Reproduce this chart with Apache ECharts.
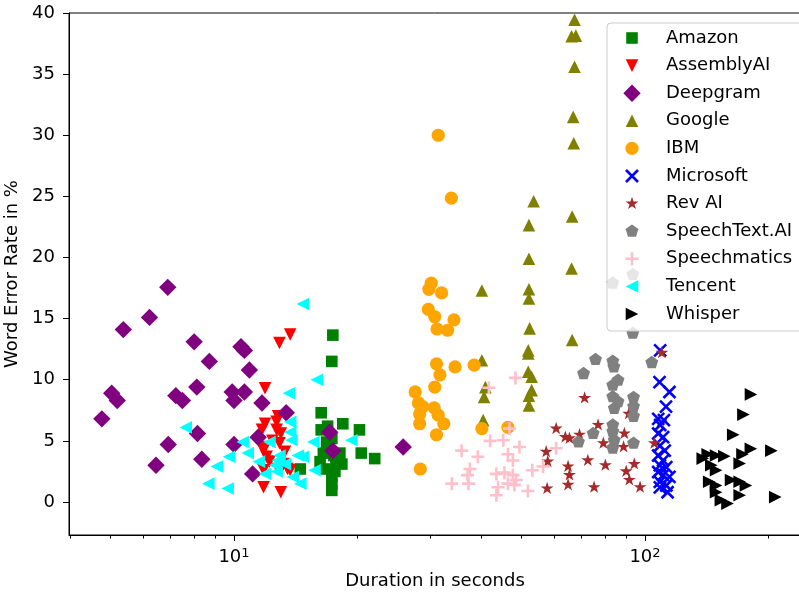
<!DOCTYPE html>
<html>
<head>
<meta charset="utf-8">
<script src="https://cdn.jsdelivr.net/npm/echarts@6/dist/echarts.min.js"></script>
<style>
html,body{margin:0;padding:0;background:#fff;}
#chart{width:799px;height:594px;}
</style>
</head>
<body>
<div id="chart"></div>
<script>
// ---- data: [duration in seconds, word error rate in %] ----
const amazon = [[17.4,13.65],[17.3,11.5],[16.3,7.3],[18.4,6.4],[20.2,5.9],[16.3,5.9],[17.3,5.2],[16.5,4.0],[18.1,4.0],[20.4,4.0],[22.0,3.55],[16.6,2.7],[18.3,3.1],[14.5,2.7],[17.3,2.05],[17.3,1.5],[17.3,0.95],[17.7,3.4],[16.8,4.9],[16.9,6.2],[17.0,4.5],[17.5,3.8],[16.2,3.3],[17.6,2.5]];
const assemblyai = [[13.7,13.7],[12.9,13.0],[11.9,9.3],[11.9,6.4],[12.7,6.55],[12.8,7.0],[11.7,5.9],[12.7,5.9],[13.0,5.6],[11.7,4.5],[11.8,4.2],[12.9,4.8],[12.0,3.7],[12.2,3.3],[13.2,3.1],[13.5,2.7],[12.8,2.7],[11.8,1.2],[13.0,0.8],[11.8,2.6],[13.7,2.6],[12.4,5.0],[13.3,4.1]];
const deepgram = [[6.9,17.56],[6.23,15.1],[5.38,14.1],[8.0,13.1],[8.71,11.5],[10.4,12.7],[10.6,12.4],[10.9,10.8],[8.12,9.4],[5.04,8.9],[5.2,8.3],[7.22,8.7],[7.49,8.3],[9.9,9.0],[10.6,9.0],[10.0,8.3],[4.77,6.8],[8.15,5.6],[6.92,4.7],[10.0,4.7],[8.35,3.5],[6.46,3.0],[11.1,2.3],[11.7,8.1],[13.4,7.3],[11.45,5.3],[17.1,5.7],[17.4,4.2],[25.8,4.5]];
const google = [[67.4,39.45],[66.3,38.1],[67.9,38.15],[67.4,35.6],[66.9,31.5],[67.1,29.35],[53.6,24.6],[66.5,23.35],[52.2,22.65],[52.2,19.9],[66.3,19.1],[52.2,17.4],[52.2,16.65],[52.4,14.2],[66.5,13.25],[52.0,12.4],[52.0,12.15],[52.0,10.65],[53.0,10.25],[53.0,9.15],[52.2,8.7],[52.2,7.9],[40.1,17.3],[40.1,11.6],[40.9,9.4],[40.6,8.6],[40.4,6.7]];
const ibm = [[31.4,30.0],[33.8,24.85],[30.2,17.9],[29.8,17.4],[32.0,17.1],[29.7,15.75],[30.8,15.15],[34.3,14.9],[31.2,14.15],[33.1,14.05],[31.1,11.3],[34.5,11.05],[38.4,11.2],[31.7,10.4],[30.8,9.4],[27.6,9.0],[28.1,8.1],[28.8,7.8],[28.3,7.2],[30.7,7.7],[31.4,7.1],[32.4,6.4],[28.3,6.4],[31.1,5.5],[40.1,6.0],[46.4,6.1],[28.4,2.7]];
const microsoft = [[108.9,12.4],[108.5,9.8],[114.7,9.0],[112.5,7.8],[107.7,6.8],[111.2,6.7],[108.9,6.3],[107.7,5.6],[110.7,5.3],[108.7,4.6],[111.7,4.2],[107.7,3.8],[110.7,3.4],[108.7,3.0],[112.7,2.85],[107.7,2.45],[110.7,2.2],[114.7,2.05],[108.7,1.65],[112.7,1.35],[108.7,1.2],[113.5,0.8]];
const revai = [[109.9,12.2],[71.3,8.5],[91.3,7.2],[60.8,6.0],[76.9,6.3],[64.0,5.3],[65.5,5.2],[69.3,5.5],[89.1,5.6],[105.4,4.8],[57.5,4.1],[79.2,4.8],[88.7,4.5],[58.0,3.3],[72.6,3.4],[80.1,3.0],[65.0,2.9],[65.5,2.2],[65.0,1.4],[94.2,3.1],[90.0,2.5],[91.6,1.8],[97.3,1.2],[57.8,1.1],[75.2,1.2]];
const speechtext = [[75.8,11.65],[83.5,11.5],[84.0,11.05],[70.9,10.5],[103.9,11.4],[86.0,9.95],[83.5,9.55],[83.5,8.6],[86.0,8.2],[93.8,8.55],[93.8,7.8],[93.8,7.0],[84.2,7.65],[83.5,6.3],[83.5,5.75],[84.2,5.05],[83.5,4.4],[74.8,5.6],[68.9,4.9],[93.8,4.8],[83.5,17.9],[93.4,18.6],[93.4,13.8]];
const speechmatics = [[48.4,10.15],[41.7,9.35],[46.8,6.0],[42.0,5.0],[45.2,5.05],[49.5,4.5],[35.8,4.2],[39.2,3.7],[46.4,3.9],[47.7,3.4],[37.5,2.7],[37.0,2.2],[43.5,2.3],[45.5,2.4],[47.7,2.2],[48.6,1.8],[33.9,1.5],[37.2,1.5],[43.9,1.2],[43.5,0.55],[46.4,1.5],[48.1,1.4],[51.9,0.9],[53.2,2.6],[56.5,2.9],[60.8,4.4]];
const tencent = [[7.63,6.1],[10.5,4.9],[10.8,4.0],[9.72,3.7],[9.08,2.9],[8.66,1.5],[9.65,1.1],[14.7,16.2],[15.9,10.0],[13.6,8.9],[13.7,6.55],[13.7,5.7],[13.8,5.05],[19.3,5.05],[15.6,4.9],[12.2,4.9],[12.9,3.8],[12.8,3.4],[14.3,3.8],[14.7,3.7],[11.5,3.3],[12.6,3.0],[13.3,3.1],[15.7,2.6],[11.9,2.3],[12.7,2.5],[13.9,2.05],[14.5,1.5]];
const whisper = [[181.1,8.8],[173.6,7.15],[164,5.5],[181,4.35],[203,4.2],[138.2,3.55],[142.1,3.9],[148.9,3.8],[156,3.75],[172.7,3.9],[170,3.15],[145,3.0],[148.9,2.6],[162,1.8],[170,1.65],[176,1.35],[143.3,1.65],[148.9,1.35],[148.9,0.8],[153,0.15],[158.8,-0.13],[170,0.55],[207.5,0.4]];

const seriesNames = ['Amazon','AssemblyAI','Deepgram','Google','IBM','Microsoft','Rev AI','SpeechText.AI','Speechmatics','Tencent','Whisper'];
const seriesData = [amazon, assemblyai, deepgram, google, ibm, microsoft, revai, speechtext, speechmatics, tencent, whisper];
const seriesColors = ['#008000','#ff0000','#800080','#808000','#ffa500','#0000ff','#a52a2a','#808080','#ffc0cb','#00ffff','#000000'];

const xMajorTicks = [10, 100];
const xMinorTicks = [4,5,6,7,8,9,20,30,40,50,60,70,80,90,200];
const yTicks = [0,5,10,15,20,25,30,35,40];

// marker shapes drawn in a common -9..9 frame so relative sizes are preserved
const F = 'path://M-9,-9 M9,9 ';
const markers = [
  F + 'M-5.8,-5.8 L5.8,-5.8 L5.8,5.8 L-5.8,5.8 Z',
  F + 'M-6.3,-6.3 L6.3,-6.3 L0,6.3 Z',
  F + 'M0,-8.7 L8.7,0 L0,8.7 L-8.7,0 Z',
  F + 'M0,-6.3 L6.3,6.3 L-6.3,6.3 Z',
  F + 'M-6.6,0 A6.6,6.6 0 1 1 6.6,0 A6.6,6.6 0 1 1 -6.6,0 Z',
  F + 'M-5.08,-6.92 L6.92,5.08 L5.08,6.92 L-6.92,-5.08 Z M-6.92,5.08 L5.08,-6.92 L6.92,-5.08 L-5.08,6.92 Z',
  F + 'M0,-6.8 L1.53,-2.1 L6.47,-2.1 L2.47,0.8 L4,5.5 L0,2.6 L-4,5.5 L-2.47,0.8 L-6.47,-2.1 L-1.53,-2.1 Z',
  F + 'M0,-6.8 L6.47,-2.1 L4,5.5 L-4,5.5 L-6.47,-2.1 Z',
  F + 'M-1.3,-6.5 L1.3,-6.5 L1.3,-1.3 L6.5,-1.3 L6.5,1.3 L1.3,1.3 L1.3,6.5 L-1.3,6.5 L-1.3,1.3 L-6.5,1.3 L-6.5,-1.3 L-1.3,-1.3 Z',
  F + 'M-6.3,0 L6.3,-6.3 L6.3,6.3 Z',
  F + 'M6.3,0 L-6.3,-6.3 L-6.3,6.3 Z'
];

const FONT = 'DejaVu Sans';
const FS = 18;
const XMIN = 3.968, XMAX = 239.7;

const chart = echarts.init(document.getElementById('chart'), null, {renderer:'canvas'});
const option = {
  animation: false,
  backgroundColor: '#fff',
  textStyle: {fontFamily: FONT},
  grid: {left: 69, top: 13, width: 732, height: 522, show: true, borderColor: '#000', borderWidth: 1, backgroundColor: 'transparent', containLabel: false, outerBoundsMode: 'none'},
  legend: {
    orient: 'vertical', left: 607, top: 23,
    padding: [6, 20, 8, 16],
    itemWidth: 18, itemHeight: 18, itemGap: 9.6,
    backgroundColor: 'rgba(255,255,255,0.8)', borderColor: '#cccccc', borderWidth: 1, borderRadius: 4,
    formatter: function (n) { return '{g|}' + n; },
    textStyle: {fontFamily: FONT, fontSize: FS, lineHeight: 18, color: '#000', rich: {g: {width: 20}}},
    data: seriesNames
  },
  xAxis: [{
    type: 'log', min: XMIN, max: XMAX, position: 'bottom',
    name: 'Duration in seconds', nameLocation: 'middle', nameGap: 37,
    nameTextStyle: {fontFamily: FONT, fontSize: FS, color: '#000'},
    axisLine: {show: true, onZero: false, lineStyle: {color: '#000', width: 1}},
    axisTick: {show: true, customValues: xMajorTicks, length: 6, lineStyle: {color: '#000', width: 1}},
    axisLabel: {show: true, customValues: xMajorTicks, margin: 12, color: '#000',
      formatter: function (v) { return '{b|10}{s|' + Math.round(Math.log10(v)) + '}'; },
      rich: {b: {fontFamily: FONT, fontSize: FS, color: '#000'}, s: {fontFamily: FONT, fontSize: 13, color: '#000', padding: [0, 0, 8, 0]}}
    },
    splitLine: {show: false}
  }, {
    type: 'log', min: XMIN, max: XMAX, position: 'bottom',
    axisLine: {show: false, onZero: false},
    axisTick: {show: true, customValues: xMinorTicks, length: 3.5, lineStyle: {color: '#000', width: 1}},
    axisLabel: {show: false},
    splitLine: {show: false}
  }],
  yAxis: {
    type: 'value', min: -2.7, max: 40,
    name: 'Word Error Rate in %', nameLocation: 'middle', nameGap: 41,
    nameTextStyle: {fontFamily: FONT, fontSize: FS, color: '#000'},
    axisLine: {show: true, onZero: false, lineStyle: {color: '#000', width: 1}},
    axisTick: {show: true, customValues: yTicks, length: 6, lineStyle: {color: '#000', width: 1}},
    axisLabel: {show: true, customValues: yTicks, margin: 14, fontFamily: FONT, fontSize: FS, color: '#000'},
    splitLine: {show: false}
  },
  series: seriesNames.map(function (name, i) {
    return {
      name: name, type: 'scatter', xAxisIndex: 0, yAxisIndex: 0,
      data: seriesData[i], symbol: markers[i], symbolSize: 18,
      itemStyle: {color: seriesColors[i], opacity: 1},
      emphasis: {disabled: true}
    };
  })
};
chart.setOption(option);
</script>
</body>
</html>
